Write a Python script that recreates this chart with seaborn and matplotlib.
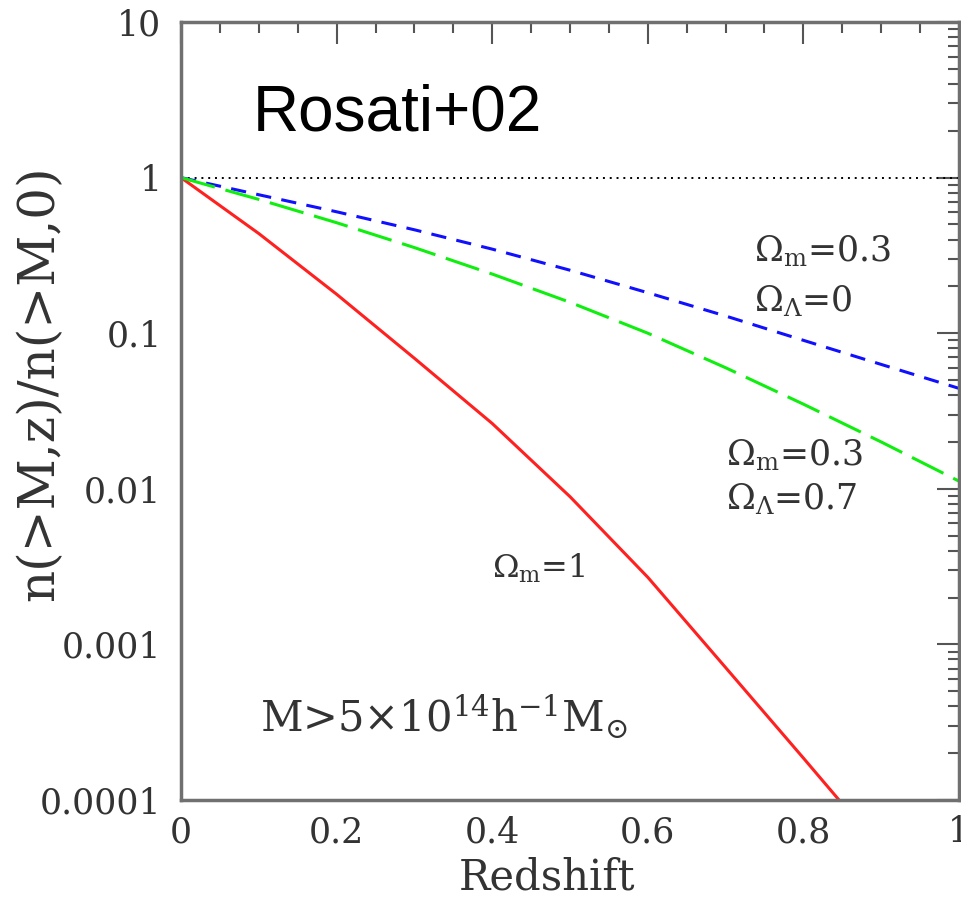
import matplotlib
matplotlib.use("Agg")
import matplotlib.pyplot as plt
import seaborn as sns
import pandas as pd
from matplotlib.ticker import FixedLocator, FixedFormatter, LogLocator, MultipleLocator, NullFormatter

# ---- data ----
redshift = [0.0, 0.1, 0.2, 0.3, 0.4, 0.5, 0.6, 0.7, 0.8, 0.9, 1.0]
ratio_om1 = [1.0, 0.437, 0.178, 0.069, 0.0263, 0.0089, 0.0027, 0.00071, 0.000186, 0.000048]
ratio_om03_ol0 = [1.0, 0.776, 0.603, 0.462, 0.347, 0.254, 0.182, 0.129, 0.090, 0.063, 0.0442]
ratio_om03_ol07 = [1.0, 0.724, 0.513, 0.355, 0.240, 0.158, 0.100, 0.060, 0.035, 0.020, 0.0112]

xtick_values = [0, 0.2, 0.4, 0.6, 0.8, 1]
xtick_labels = ["0", "0.2", "0.4", "0.6", "0.8", "1"]
ytick_values = [1e-4, 1e-3, 1e-2, 1e-1, 1, 10]
ytick_labels = ["0.0001", "0.001", "0.01", "0.1", "1", "10"]

sns.set_style("white")
plt.rcParams["font.family"] = ["DejaVu Serif"]
plt.rcParams["mathtext.fontset"] = "dejavuserif"

fig = plt.figure(figsize=(9.61, 9.07), dpi=100)
ax = fig.add_axes([181 / 961, 1 - 800 / 907, 778 / 961, 778 / 907])

df_red = pd.DataFrame({"z": redshift[:len(ratio_om1)], "n": ratio_om1})
df_blue = pd.DataFrame({"z": redshift, "n": ratio_om03_ol0})
df_green = pd.DataFrame({"z": redshift, "n": ratio_om03_ol07})

ax.axhline(1, color="black", lw=1.4, linestyle=(0, (1, 2.5)), zorder=1)
sns.lineplot(data=df_red, x="z", y="n", ax=ax, color="#ff2020", linewidth=2.2)
sns.lineplot(data=df_blue, x="z", y="n", ax=ax, color="#1010ff", linewidth=2.2,
             linestyle=(0, (5.0, 3.4)))
sns.lineplot(data=df_green, x="z", y="n", ax=ax, color="#10ee10", linewidth=2.2,
             linestyle=(0, (11.5, 3.6)))

ax.set_yscale("log")
ax.set_xlim(0, 1)
ax.set_ylim(1e-4, 10)

ax.xaxis.set_major_locator(FixedLocator(xtick_values))
ax.xaxis.set_major_formatter(FixedFormatter(xtick_labels))
ax.xaxis.set_minor_locator(MultipleLocator(0.05))
ax.yaxis.set_major_locator(FixedLocator(ytick_values))
ax.yaxis.set_major_formatter(FixedFormatter(ytick_labels))
ax.yaxis.set_minor_locator(LogLocator(base=10, subs=[2, 3, 4, 5, 6, 7, 8, 9], numticks=20))
ax.yaxis.set_minor_formatter(NullFormatter())

tick_col = "#555555"
ax.tick_params(which="both", direction="in", top=True, right=True, color=tick_col,
               labelcolor="#333333", labelsize=25)
ax.tick_params(which="major", length=16, width=1.5)
ax.tick_params(which="minor", length=8, width=1.5)
ax.tick_params(axis="y", which="major", pad=14)
ax.tick_params(axis="x", which="major", pad=11)
for s in ax.spines.values():
    s.set_color("#707070")
    s.set_linewidth(2.5)

ax.set_xlabel("Redshift", fontsize=30, color="#333333")
ax.xaxis.set_label_coords(0.471, -0.073)
ax.set_ylabel("n(>M,z)/n(>M,0)", fontsize=36, color="#333333")
ax.yaxis.set_label_coords(-0.150, 0.536)

ax.text(0.092, 2.0, "Rosati+02", fontsize=46, family=["Liberation Sans"], color="black",
        ha="left", va="baseline")
ann_col = "#333333"
ax.text(0.737, 0.288, r"$\Omega_{\rm m}$=0.3", fontsize=25, color=ann_col, ha="left", va="baseline")
ax.text(0.737, 0.138, r"$\Omega_{\Lambda}$=0", fontsize=25, color=ann_col, ha="left", va="baseline")
ax.text(0.701, 0.0141, r"$\Omega_{\rm m}$=0.3", fontsize=25, color=ann_col, ha="left", va="baseline")
ax.text(0.701, 0.00735, r"$\Omega_{\Lambda}$=0.7", fontsize=25, color=ann_col, ha="left", va="baseline")
ax.text(0.40, 0.00269, r"$\Omega_{\rm m}$=1", fontsize=23, color=ann_col, ha="left", va="baseline")
ax.text(0.101, 0.000271, r"M>5$\times$10$^{14}$h$^{-1}$M$_{\odot}$", fontsize=30, color=ann_col,
        ha="left", va="baseline")

fig.savefig("out.png", dpi=100)
